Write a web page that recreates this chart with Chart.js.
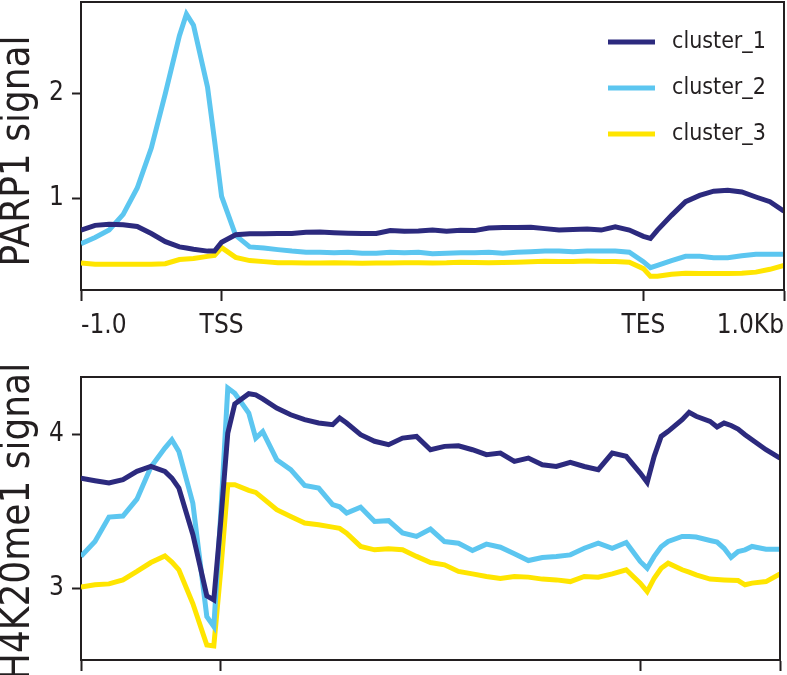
<!DOCTYPE html>
<html>
<head>
<meta charset="utf-8">
<script src="https://cdn.jsdelivr.net/npm/chart.js@4.4.1/dist/chart.umd.min.js"></script>
<style>
html, body { margin: 0; padding: 0; background: #fff; width: 787px; height: 675px; overflow: hidden; }
canvas { position: absolute; left: 0; }
#topChart { top: 0; }
#bottomChart { top: 345px; }
</style>
</head>
<body>
<canvas id="topChart" width="787" height="345"></canvas>
<canvas id="bottomChart" width="787" height="330"></canvas>
<script>
// bins: -1kb .. TSS (20) .. TES (80) .. +1kb (100)
var xTickBins = [0, 20, 80, 100];
var xTickLabels = ['-1.0', 'TSS', 'TES', '1.0Kb'];
var seriesNames = ['cluster_1', 'cluster_2', 'cluster_3'];

// PARP1 panel
var parpBins = [0,2,4,6,8,10,12,14,15,16,18,19,20,22,24,26,28,30,32,34,36,38,40,42,44,46,48,50,52,54,56,58,60,62,64,66,68,70,72,74,76,78,80,81,82,84,86,88,90,92,94,96,98,100];
var parpCluster1 = [0.70,0.745,0.755,0.75,0.735,0.667,0.59,0.54,0.53,0.517,
  0.50,0.50,0.585,0.655,0.665,0.665,0.667,0.667,0.68,0.682,
  0.675,0.67,0.667,0.667,0.695,0.69,0.692,0.70,0.69,0.698,
  0.695,0.72,0.724,0.724,0.728,0.714,0.70,0.705,0.71,0.70,
  0.73,0.70,0.64,0.62,0.70,0.84,0.97,1.03,1.07,1.08,
  1.063,1.015,0.97,0.88];
var parpCluster2 = [0.57,0.63,0.70,0.85,1.1,1.48,2.0,2.55,2.755,2.65,
  2.06,1.55,1.02,0.65,0.54,0.53,0.514,0.50,0.49,0.49,
  0.485,0.49,0.48,0.48,0.49,0.485,0.49,0.475,0.48,0.485,
  0.485,0.49,0.48,0.49,0.495,0.50,0.50,0.495,0.50,0.50,
  0.50,0.49,0.40,0.343,0.365,0.41,0.45,0.45,0.438,0.438,
  0.455,0.47,0.47,0.47];
var parpCluster3 = [0.387,0.374,0.374,0.374,0.374,0.376,0.38,0.42,0.425,0.43,
  0.45,0.46,0.533,0.44,0.41,0.40,0.39,0.39,0.388,0.388,
  0.39,0.388,0.385,0.388,0.388,0.39,0.39,0.388,0.39,0.395,
  0.392,0.39,0.392,0.395,0.398,0.403,0.40,0.40,0.405,0.40,
  0.40,0.395,0.333,0.26,0.26,0.28,0.29,0.286,0.286,0.286,
  0.29,0.30,0.327,0.365];
var parpTicks = [1, 2];

// H4K20me1 panel
var h4Bins = [0,2,4,6,8,10,12,13,14,16,18,19,20,21,22,24,25,26,28,30,32,34,36,37,38,40,42,44,46,48,50,52,54,56,58,60,62,64,66,68,70,72,74,76,78,80,81,82,83,84,86,87,88,90,91,92,93,94,95,96,98,100];
var h4Cluster1 = [3.717,3.70,3.685,3.707,3.761,3.793,3.761,3.717,3.652,3.35,
  2.95,2.924,3.44,4.01,4.20,4.267,4.26,4.233,4.174,4.13,
  4.098,4.076,4.065,4.109,4.076,4.0,3.957,3.935,3.978,3.989,
  3.902,3.924,3.928,3.902,3.87,3.88,3.826,3.848,3.804,3.793,
  3.82,3.793,3.772,3.88,3.859,3.75,3.689,3.859,3.989,4.022,
  4.098,4.146,4.12,4.087,4.05,4.076,4.06,4.037,4.0,3.967,
  3.902,3.848];
var h4Cluster2 = [3.207,3.304,3.463,3.47,3.58,3.79,3.913,3.967,3.891,3.554,
  2.815,2.75,3.49,4.304,4.27,4.141,3.978,4.02,3.837,3.772,
  3.67,3.652,3.545,3.53,3.49,3.528,3.435,3.44,3.36,3.337,
  3.385,3.304,3.293,3.246,3.287,3.267,3.224,3.18,3.2,3.207,
  3.217,3.26,3.293,3.26,3.298,3.174,3.13,3.207,3.27,3.304,
  3.337,3.337,3.333,3.311,3.3,3.26,3.2,3.239,3.25,3.272,
  3.254,3.254];
var h4Cluster3 = [3.007,3.022,3.028,3.054,3.109,3.167,3.21,3.17,3.12,2.90,
  2.63,2.624,3.12,3.674,3.674,3.637,3.624,3.587,3.511,3.467,
  3.424,3.413,3.398,3.39,3.359,3.272,3.25,3.257,3.25,3.207,
  3.167,3.152,3.109,3.093,3.076,3.063,3.076,3.072,3.059,3.054,
  3.043,3.076,3.072,3.093,3.12,3.033,2.978,3.065,3.13,3.163,
  3.12,3.105,3.087,3.059,3.057,3.054,3.052,3.05,3.022,3.033,
  3.043,3.093];
var h4Ticks = [3, 4];

var colors = ['#2c2a7e', '#5cc6f0', '#ffe500'];
var INK = '#231f20';
var FONT = '"DejaVu Sans Condensed", "Liberation Sans Narrow", "DejaVu Sans", sans-serif';

// top + right edges of the box
var framePlugin = {
  id: 'frame',
  afterDatasetsDraw: function(chart) {
    var a = chart.chartArea, ctx = chart.ctx;
    ctx.save();
    ctx.strokeStyle = INK;
    ctx.lineWidth = 2;
    ctx.beginPath();
    ctx.moveTo(a.left, a.top);
    ctx.lineTo(a.right, a.top);
    ctx.lineTo(a.right, a.bottom);
    ctx.stroke();
    ctx.restore();
  }
};

var yTitlePlugin = {
  id: 'yTitle',
  afterDraw: function(chart, args, opts) {
    var a = chart.chartArea, ctx = chart.ctx;
    ctx.save();
    ctx.translate(opts.x, (a.top + a.bottom) / 2 + opts.shift);
    ctx.rotate(-Math.PI / 2);
    ctx.font = '40px ' + FONT;
    ctx.fillStyle = INK;
    ctx.textAlign = 'center';
    ctx.textBaseline = 'middle';
    ctx.fillText(opts.text, 0, 0);
    ctx.restore();
  }
};

var boxLegendPlugin = {
  id: 'boxLegend',
  afterDraw: function(chart, args, opts) {
    if (!opts.show) return;
    var a = chart.chartArea, ctx = chart.ctx;
    ctx.save();
    ctx.font = '23px ' + FONT;
    ctx.textBaseline = 'middle';
    chart.data.datasets.forEach(function(ds, i) {
      var y = a.top + 40 + i * 46;
      ctx.strokeStyle = ds.borderColor;
      ctx.lineWidth = 5;
      ctx.beginPath();
      ctx.moveTo(a.right - 176, y);
      ctx.lineTo(a.right - 129, y);
      ctx.stroke();
      ctx.fillStyle = INK;
      ctx.fillText(ds.label, a.right - 112, y);
    });
    ctx.restore();
  }
};

function makePanel(id, bins, series, yMin, yMax, yTicks, title, cfg) {
  var ctx = document.getElementById(id);
  return new Chart(ctx, {
    type: 'line',
    data: {
      datasets: series.map(function(vals, i) {
        return {
          label: seriesNames[i],
          data: bins.map(function(b, j) { return {x: b, y: vals[j]}; }),
          borderColor: colors[i],
          borderWidth: 5,
          pointRadius: 0,
          tension: 0,
          fill: false
        };
      })
    },
    options: {
      responsive: false,
      animation: false,
      layout: {padding: cfg.padding},
      plugins: {
        legend: {display: false},
        tooltip: {enabled: false},
        yTitle: {text: title, x: 19, shift: cfg.titleShift},
        boxLegend: {show: cfg.legend}
      },
      scales: {
        x: {
          type: 'linear',
          min: 0,
          max: 100,
          afterBuildTicks: function(s) { s.ticks = xTickBins.map(function(v) { return {value: v}; }); },
          afterFit: function(s) {
            s.height = cfg.xHeight;
            s.paddingLeft = 0;
            s.paddingRight = 0;
          },
          ticks: {
            display: cfg.xLabels,
            callback: function(v) { return xTickLabels[xTickBins.indexOf(v)]; },
            align: 'inner',
            maxRotation: 0,
            autoSkip: false,
            padding: 10,
            color: INK,
            font: {family: FONT, size: 26}
          },
          grid: {drawOnChartArea: false, drawTicks: true, tickLength: 11, tickColor: INK, tickWidth: 2, color: INK},
          border: {display: true, color: INK, width: 2}
        },
        y: {
          min: yMin,
          max: yMax,
          afterBuildTicks: function(s) { s.ticks = yTicks.map(function(v) { return {value: v}; }); },
          afterFit: function(s) {
            s.width = 81;
            s.paddingTop = 0;
            s.paddingBottom = 0;
          },
          ticks: {padding: 8, color: INK, font: {family: FONT, size: 26}},
          grid: {drawOnChartArea: false, drawTicks: true, tickLength: 9, tickColor: INK, tickWidth: 2, color: INK},
          border: {display: true, color: INK, width: 2}
        }
      }
    },
    plugins: [framePlugin, yTitlePlugin, boxLegendPlugin]
  });
}

makePanel('topChart', parpBins, [parpCluster1, parpCluster2, parpCluster3], 0.13, 2.87, parpTicks,
  'PARP1 signal', {padding: {left: 0, top: 2, right: 3, bottom: 0}, xHeight: 55, xLabels: true, legend: true, titleShift: 5});

makePanel('bottomChart', h4Bins, [h4Cluster1, h4Cluster2, h4Cluster3], 2.532, 4.376, h4Ticks,
  'H4K20me1 signal', {padding: {left: 0, top: 32, right: 7, bottom: 0}, xHeight: 15, xLabels: false, legend: false, titleShift: 3});
</script>
</body>
</html>
